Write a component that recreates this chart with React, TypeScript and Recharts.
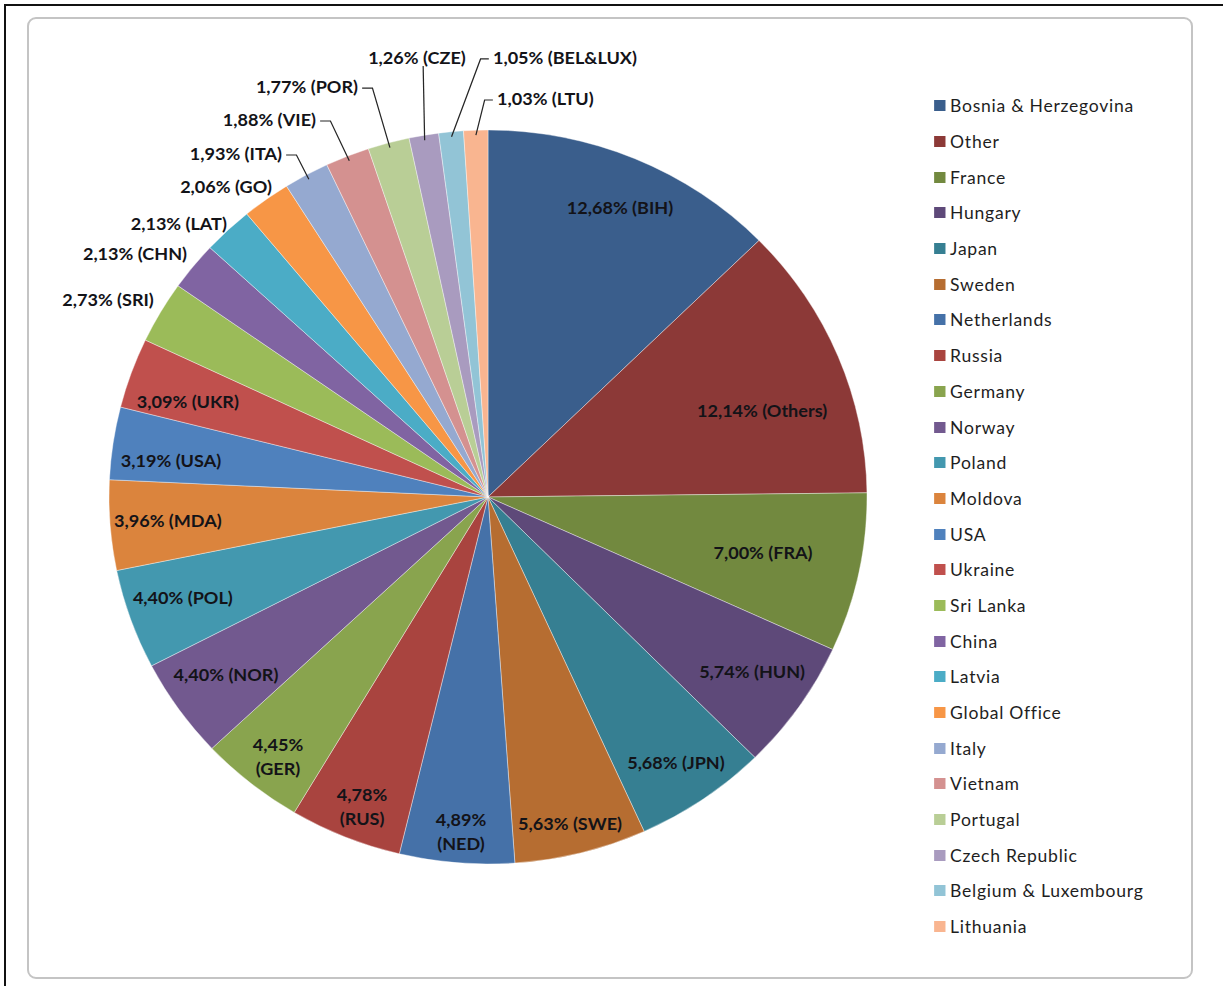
import React from 'react';
import { PieChart, Pie, Cell, Legend } from 'recharts';

// slices in clockwise order from 12 o'clock
const countries = [
  'Bosnia & Herzegovina', 'Other', 'France', 'Hungary', 'Japan', 'Sweden',
  'Netherlands', 'Russia', 'Germany', 'Norway', 'Poland', 'Moldova',
  'USA', 'Ukraine', 'Sri Lanka', 'China', 'Latvia', 'Global Office',
  'Italy', 'Vietnam', 'Portugal', 'Czech Republic', 'Belgium & Luxembourg', 'Lithuania',
];

const codes = [
  'BIH', 'Others', 'FRA', 'HUN', 'JPN', 'SWE',
  'NED', 'RUS', 'GER', 'NOR', 'POL', 'MDA',
  'USA', 'UKR', 'SRI', 'CHN', 'LAT', 'GO',
  'ITA', 'VIE', 'POR', 'CZE', 'BEL&LUX', 'LTU',
];

const shares = [
  12.68, 12.14, 7.0, 5.74, 5.68, 5.63,
  4.89, 4.78, 4.45, 4.4, 4.4, 3.96,
  3.19, 3.09, 2.73, 2.13, 2.13, 2.06,
  1.93, 1.88, 1.77, 1.26, 1.05, 1.03,
];

const sliceColors = [
  '#3A5E8C', '#8C3937', '#72893F', '#5E4979', '#367F92', '#B66D31',
  '#4571A8', '#A9443F', '#89A44E', '#72598F', '#4398AF', '#DB843D',
  '#4F81BD', '#C0504D', '#9BBB59', '#8064A2', '#4BACC6', '#F79646',
  '#95A9D0', '#D49190', '#B9CE96', '#A99BBF', '#92C4D6', '#F9B590',
];

const data = countries.map((name, i) => ({ name, code: codes[i], value: shares[i] }));

type Placement =
  | { kind: 'in'; r: number; shift: number; twoLines?: boolean }
  | { kind: 'out'; dx: number; dy: number; anchor: 'start' | 'middle' | 'end'; leader?: 'left' | 'right' | 'below' };

// where each data label sits, relative to its slice
const placements: Placement[] = [
  { kind: 'in', r: 0.8635, shift: -0.96 },
  { kind: 'in', r: 0.761, shift: -4.35 },
  { kind: 'in', r: 0.741, shift: 0.28 },
  { kind: 'in', r: 0.843, shift: 0.64 },
  { kind: 'in', r: 0.876, shift: -0.08 },
  { kind: 'in', r: 0.914, shift: -0.5 },
  { kind: 'in', r: 0.913, shift: 0.26, twoLines: true },
  { kind: 'in', r: 0.905, shift: 0.6, twoLines: true },
  { kind: 'in', r: 0.897, shift: 0.6, twoLines: true },
  { kind: 'in', r: 0.843, shift: -0.4 },
  { kind: 'in', r: 0.85, shift: -0.8 },
  { kind: 'in', r: 0.847, shift: -0.2 },
  { kind: 'in', r: 0.8425, shift: 1.57 },
  { kind: 'in', r: 0.834, shift: 1.45 },
  { kind: 'out', dx: -50.8, dy: -13.4, anchor: 'middle' },
  { kind: 'out', dx: -56.5, dy: -13.2, anchor: 'middle' },
  { kind: 'out', dx: -47.4, dy: -7, anchor: 'middle' },
  { kind: 'out', dx: -38.9, dy: -13.4, anchor: 'middle' },
  { kind: 'out', dx: -23.6, dy: -21.9, anchor: 'end', leader: 'right' },
  { kind: 'out', dx: -30.4, dy: -37.2, anchor: 'end', leader: 'right' },
  { kind: 'out', dx: -29.6, dy: -56.8, anchor: 'end', leader: 'right' },
  { kind: 'out', dx: -6.6, dy: -78.3, anchor: 'middle', leader: 'below' },
  { kind: 'out', dx: 40.6, dy: -74.8, anchor: 'start', leader: 'left' },
  { kind: 'out', dx: 20.6, dy: -32.2, anchor: 'start', leader: 'left' },
];

const RAD = Math.PI / 180;
const labelFont = 'Lato, "Open Sans", sans-serif';
const labelColor = '#131318';
// the original picture is a little wider than tall
const stretchX = 1.0327;

const fmt = (v: number) => v.toFixed(2).replace('.', ',') + '%';

function renderLabel(props: any) {
  const { cx, cy, midAngle, outerRadius, index } = props;
  const p = placements[index];
  const item = data[index];
  const textProps = {
    fill: labelColor,
    fontFamily: labelFont,
    fontSize: 17.5,
    fontWeight: 700,
    dominantBaseline: 'central' as const,
  };

  if (p.kind === 'in') {
    const a = (midAngle + p.shift) * RAD;
    const x = cx + outerRadius * p.r * Math.cos(a);
    const y = cy - outerRadius * p.r * Math.sin(a);
    if (p.twoLines) {
      return (
        <g key={`lbl-${index}`}>
          <text x={x} y={y - 12} textAnchor="middle" {...textProps}>{fmt(item.value)}</text>
          <text x={x} y={y + 12} textAnchor="middle" {...textProps}>({item.code})</text>
        </g>
      );
    }
    return (
      <text key={`lbl-${index}`} x={x} y={y} textAnchor="middle" {...textProps}>
        {`${fmt(item.value)} (${item.code})`}
      </text>
    );
  }

  const a = midAngle * RAD;
  const ex = cx + outerRadius * Math.cos(a);
  const ey = cy - outerRadius * Math.sin(a);
  const ax = ex + p.dx;
  const ay = ey + p.dy;
  const px = cx + (outerRadius - 5) * Math.cos(a);
  const py = cy - (outerRadius - 5) * Math.sin(a);

  let leader: string | null = null;
  if (p.leader === 'right') {
    leader = `${ax + 4},${ay + 2} ${ax + 14},${ay + 2} ${px},${py}`;
  } else if (p.leader === 'left') {
    leader = `${ax - 4},${ay + 2} ${ax - 12},${ay + 2} ${px},${py}`;
  } else if (p.leader === 'below') {
    leader = `${ax + 6},${ay + 9} ${px},${py}`;
  }

  return (
    <g key={`lbl-${index}`}>
      {leader && <polyline points={leader} fill="none" stroke="#262626" strokeWidth={1.2} />}
      <text x={ax} y={ay} textAnchor={p.anchor} {...textProps}>
        {`${fmt(item.value)} (${item.code})`}
      </text>
    </g>
  );
}

function LegendList() {
  return (
    <div style={{ fontFamily: labelFont, fontSize: 17, color: '#1e1e1e', letterSpacing: 0.7 }}>
      {countries.map((name, i) => (
        <div key={name} style={{ display: 'flex', alignItems: 'center', height: 35.7 }}>
          <span style={{ width: 10.7, height: 11, background: sliceColors[i], marginRight: 4.8, flex: 'none' }} />
          <span>{name}</span>
        </div>
      ))}
    </div>
  );
}

export default function App() {
  return (
    <div style={{ position: 'absolute', left: 0, top: 0, width: 1223, height: 986, overflow: 'hidden', background: '#fff' }}>
      <div style={{ position: 'absolute', left: 4, top: 4, width: 1260, height: 1020, border: '2px solid #111' }} />
      <div
        style={{
          position: 'absolute', left: 27, top: 17, width: 1162, height: 958,
          border: '2px solid #c4c4c4', borderRadius: 9, background: '#fff',
        }}
      />
      <div
        style={{
          position: 'absolute', left: 0, top: 0,
          transform: `scaleX(${stretchX})`, transformOrigin: '488px 497px',
        }}
      >
        <PieChart width={1180} height={986} margin={{ top: 0, right: 0, bottom: 0, left: 0 }}>
          <Pie
            data={data}
            dataKey="value"
            nameKey="name"
            cx={488}
            cy={497}
            outerRadius={367}
            startAngle={90}
            endAngle={-270}
            stroke="rgba(255,255,255,0.55)"
            strokeWidth={0.7}
            label={renderLabel}
            labelLine={false}
            isAnimationActive={false}
          >
            {data.map((d, i) => (
              <Cell key={d.code} fill={sliceColors[i]} />
            ))}
          </Pie>
          <Legend
            layout="vertical"
            verticalAlign="top"
            align="right"
            content={() => <LegendList />}
            wrapperStyle={{ left: 920, top: 88, width: 250, right: 'auto' }}
          />
        </PieChart>
      </div>
    </div>
  );
}
